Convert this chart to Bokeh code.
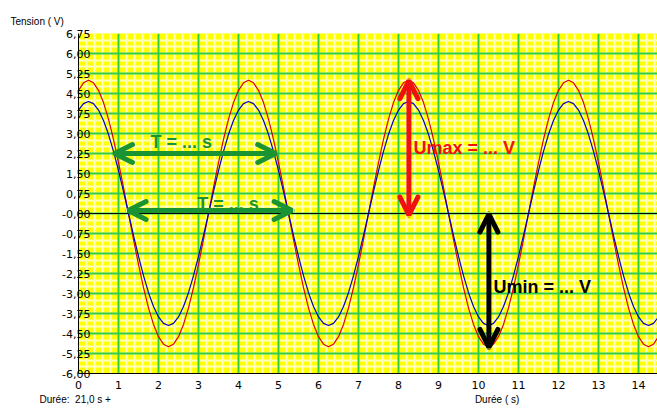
from bokeh.plotting import figure
from bokeh.models import Arrow, OpenHead, Label, Span, FixedTicker, ColumnDataSource, Grid, Title
from bokeh.embed import file_html
from bokeh.resources import INLINE
import numpy as np

# ---------------- data ----------------
time_s = [
    0.0, 0.125, 0.25, 0.375, 0.5, 0.625, 0.75, 0.875,
    1.0, 1.125, 1.25, 1.375, 1.5, 1.625, 1.75, 1.875,
    2.0, 2.125, 2.25, 2.375, 2.5, 2.625, 2.75, 2.875,
    3.0, 3.125, 3.25, 3.375, 3.5, 3.625, 3.75, 3.875,
    4.0, 4.125, 4.25, 4.375, 4.5, 4.625, 4.75, 4.875,
    5.0, 5.125, 5.25, 5.375, 5.5, 5.625, 5.75, 5.875,
    6.0, 6.125, 6.25, 6.375, 6.5, 6.625, 6.75, 6.875,
    7.0, 7.125, 7.25, 7.375, 7.5, 7.625, 7.75, 7.875,
    8.0, 8.125, 8.25, 8.375, 8.5, 8.625, 8.75, 8.875,
    9.0, 9.125, 9.25, 9.375, 9.5, 9.625, 9.75, 9.875,
    10.0, 10.125, 10.25, 10.375, 10.5, 10.625, 10.75, 10.875,
    11.0, 11.125, 11.25, 11.375, 11.5, 11.625, 11.75, 11.875,
    12.0, 12.125, 12.25, 12.375, 12.5, 12.625, 12.75, 12.875,
    13.0, 13.125, 13.25, 13.375, 13.5, 13.625, 13.75, 13.875,
    14.0, 14.125, 14.25, 14.375, 14.5,
]

tension_rouge = [
    4.62, 4.90, 5.00, 4.90, 4.62, 4.16, 3.54, 2.78, 1.91, 0.98, 0.00, -0.98, -1.91, -2.78, -3.54, -4.16,
    -4.62, -4.90, -5.00, -4.90, -4.62, -4.16, -3.54, -2.78, -1.91, -0.98, 0.00, 0.98, 1.91, 2.78, 3.54, 4.16,
    4.62, 4.90, 5.00, 4.90, 4.62, 4.16, 3.54, 2.78, 1.91, 0.98, 0.00, -0.98, -1.91, -2.78, -3.54, -4.16,
    -4.62, -4.90, -5.00, -4.90, -4.62, -4.16, -3.54, -2.78, -1.91, -0.98, 0.00, 0.98, 1.91, 2.78, 3.54, 4.16,
    4.62, 4.90, 5.00, 4.90, 4.62, 4.16, 3.54, 2.78, 1.91, 0.98, 0.00, -0.98, -1.91, -2.78, -3.54, -4.16,
    -4.62, -4.90, -5.00, -4.90, -4.62, -4.16, -3.54, -2.78, -1.91, -0.98, 0.00, 0.98, 1.91, 2.78, 3.54, 4.16,
    4.62, 4.90, 5.00, 4.90, 4.62, 4.16, 3.54, 2.78, 1.91, 0.98, 0.00, -0.98, -1.91, -2.78, -3.54, -4.16,
    -4.62, -4.90, -5.00, -4.90, -4.62,
]

tension_bleue = [
    3.88, 4.12, 4.20, 4.12, 3.88, 3.49, 2.97, 2.33, 1.61, 0.82, 0.00, -0.82, -1.61, -2.33, -2.97, -3.49,
    -3.88, -4.12, -4.20, -4.12, -3.88, -3.49, -2.97, -2.33, -1.61, -0.82, 0.00, 0.82, 1.61, 2.33, 2.97, 3.49,
    3.88, 4.12, 4.20, 4.12, 3.88, 3.49, 2.97, 2.33, 1.61, 0.82, 0.00, -0.82, -1.61, -2.33, -2.97, -3.49,
    -3.88, -4.12, -4.20, -4.12, -3.88, -3.49, -2.97, -2.33, -1.61, -0.82, 0.00, 0.82, 1.61, 2.33, 2.97, 3.49,
    3.88, 4.12, 4.20, 4.12, 3.88, 3.49, 2.97, 2.33, 1.61, 0.82, 0.00, -0.82, -1.61, -2.33, -2.97, -3.49,
    -3.88, -4.12, -4.20, -4.12, -3.88, -3.49, -2.97, -2.33, -1.61, -0.82, 0.00, 0.82, 1.61, 2.33, 2.97, 3.49,
    3.88, 4.12, 4.20, 4.12, 3.88, 3.49, 2.97, 2.33, 1.61, 0.82, 0.00, -0.82, -1.61, -2.33, -2.97, -3.49,
    -3.88, -4.12, -4.20, -4.12, -3.88,
]

x_ticks = [0, 1, 2, 3, 4, 5, 6, 7, 8, 9, 10, 11, 12, 13, 14]
y_ticks = [6.75, 6.0, 5.25, 4.5, 3.75, 3.0, 2.25, 1.5, 0.75, 0.0,
           -0.75, -1.5, -2.25, -3.0, -3.75, -4.5, -5.25, -6.0]
y_tick_labels = ["6,75", "6,00", "5,25", "4,50", "3,75", "3,00", "2,25", "1,50", "0,75", "-0,00",
                 "-0,75", "-1,50", "-2,25", "-3,00", "-3,75", "-4,50", "-5,25", "-6,00"]

y_title = "Tension ( V)"
x_info = "Durée:  21,0 s +"
x_title = "Durée ( s)"

# ---------------- figure ----------------
YELLOW = "#FFFF00"
PALE = "#FFFFC0"
GREEN_GRID = "#2ECC40"
GREEN = "#1A9432"
RED = "#F01010"

p = figure(width=657, height=410, x_range=(0, 14.475), y_range=(-6.0, 6.75),
           output_backend="svg", toolbar_location=None, title=None,
           min_border_left=78, min_border_right=0, min_border_top=33, min_border_bottom=37)
p.background_fill_color = YELLOW
p.border_fill_color = "white"
p.outline_line_color = None

p.xaxis.ticker = FixedTicker(ticks=x_ticks)
p.yaxis.ticker = FixedTicker(ticks=y_ticks)
p.yaxis.major_label_overrides = {t: s for t, s in zip(y_ticks, y_tick_labels)}

for ax in (p.xaxis, p.yaxis):
    ax.major_tick_out = 0
    ax.major_tick_in = 0
    ax.minor_tick_out = 0
    ax.minor_tick_in = 0
    ax.axis_line_color = "black"
    ax.axis_line_width = 1
    ax.major_label_text_font = "DejaVu Sans"
    ax.major_label_text_font_size = "11px"
    ax.major_label_text_color = "black"
p.yaxis.major_label_standoff = -12
p.xaxis.major_label_standoff = 7

# green major grid (styled before the fine grid is added)
p.xgrid.grid_line_color = GREEN_GRID
p.ygrid.grid_line_color = GREEN_GRID
p.xgrid.grid_line_width = 2
p.ygrid.grid_line_width = 2

# pale fine grid underneath the green major grid
minor_x = Grid(dimension=0, ticker=FixedTicker(ticks=list(np.arange(0.2, 14.6, 0.2))),
               grid_line_color=PALE, grid_line_width=2)
minor_y = Grid(dimension=1, ticker=FixedTicker(ticks=list(np.arange(-5.75, 6.8, 0.25))),
               grid_line_color=PALE, grid_line_width=2)
p.center = [minor_x, minor_y] + list(p.center)

p.add_layout(Span(location=0, dimension="width", line_color="black", line_width=1))

src = ColumnDataSource(dict(t=time_s, rouge=tension_rouge, bleue=tension_bleue))
p.line("t", "rouge", source=src, line_color="#E00000", line_width=1.2)
p.line("t", "bleue", source=src, line_color="#0000C8", line_width=1.2)

# ---------------- annotations ----------------
def double_arrow(x0, y0, x1, y1, color):
    head = dict(size=18, line_width=5, line_color=color, line_cap="round")
    p.add_layout(Arrow(start=OpenHead(**head), end=OpenHead(**head),
                       x_start=x0, y_start=y0, x_end=x1, y_end=y1,
                       line_color=color, line_width=5, line_cap="round"))

double_arrow(0.90, 2.25, 4.93, 2.25, GREEN)
double_arrow(1.24, 0.11, 5.34, 0.11, GREEN)
double_arrow(8.26, 4.98, 8.26, -0.06, RED)
double_arrow(10.26, -0.02, 10.26, -5.02, "black")

def big_label(x, y, text, color):
    p.add_layout(Label(x=x, y=y, text=text, text_color=color, text_font="Liberation Sans",
                       text_font_style="bold", text_font_size="18px", text_baseline="middle",
                       text_align="left"))

big_label(1.8, 2.70, "T = ... s", GREEN)
big_label(2.97, 0.36, "T = ... s", GREEN)
big_label(8.375, 2.46, "Umax = ... V", RED)
big_label(10.375, -2.74, "Umin = ... V", "black")

# texts around the frame, as titles in the side panels
NBSP = "\u00a0"
top_title = Title(text=y_title, align="left", offset=-68, standoff=10, vertical_align="top",
                  text_font="Liberation Sans", text_font_size="10px",
                  text_font_style="normal", text_color="black")
p.add_layout(top_title, "above")

bottom_text = x_info.replace("  ", NBSP + NBSP) + NBSP * 131 + x_title
bottom_title = Title(text=bottom_text, align="left", offset=-39, standoff=0,
                     text_font="Liberation Sans", text_font_size="10px",
                     text_font_style="normal", text_color="black")
p.add_layout(bottom_title, "below")

open("out.html", "w").write(file_html(p, INLINE))
